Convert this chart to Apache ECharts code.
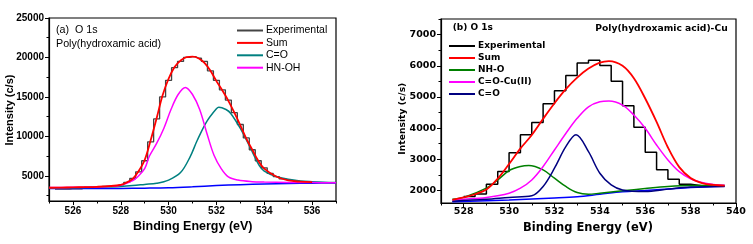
<!DOCTYPE html>
<html>
<head>
<meta charset="utf-8">
<script src="https://cdn.jsdelivr.net/npm/echarts@6/dist/echarts.min.js"></script>
<style>
html,body{margin:0;padding:0;background:#fff;}
#c{width:753px;height:244px;}
</style>
</head>
<body>
<div id="c"></div>
<script>
// ---------- Panel (a): Poly(hydroxamic acid), O 1s ----------
const A_EXP_E = [525.25,525.5,525.75,526,526.25,526.5,526.75,527,527.25,527.5,527.75,528,528.25,528.5,528.75,529,529.25,529.5,529.75,530,530.25,530.5,530.75,531,531.25,531.5,531.75,532,532.25,532.5,532.75,533,533.25,533.5,533.75,534,534.25,534.5,534.75,535,535.25,535.5];
const A_EXP_I = [3300,3300,3320,3330,3340,3560,3580,3600,3640,3680,3760,3860,4150,4650,5500,6900,9300,12200,15000,17100,18700,19500,20000,20100,19900,19500,18300,17100,15900,14600,13000,11500,9800,8300,6900,6000,5300,4900,4600,4450,4350,4300];

const A_SUM_E = [525,525.5,526,526.5,527,527.5,528,528.25,528.5,528.75,529,529.25,529.5,529.75,530,530.25,530.5,530.75,531,531.25,531.5,531.75,532,532.25,532.5,532.75,533,533.25,533.5,533.75,534,534.5,535,535.5,536];
const A_SUM_I = [3480,3500,3530,3560,3600,3680,3850,4150,4600,5600,7000,9500,12300,15200,17300,18800,19600,20050,20100,19900,19300,18300,17000,15800,14500,13000,11400,9700,8300,6900,5900,4900,4400,4250,4200];

const A_CO_E = [525,526,527,528,528.5,529,529.5,530,530.5,530.9,531.2,531.6,532,532.1,532.4,532.6,533,533.4,533.8,534,534.5,535,535.5,536,536.5,537];
const A_CO_I = [3450,3480,3550,3650,3750,3900,4050,4450,5400,7400,9500,11900,13500,13700,13400,12900,11000,8650,6250,5600,4900,4550,4350,4250,4180,4150];

const A_HNOH_E = [525,526,527,527.5,528,528.5,528.7,529,529.2,529.5,529.8,530.1,530.4,530.7,531,531.3,531.6,531.9,532.2,532.5,532.9,533.5,534,535,536,537];
const A_HNOH_I = [3500,3530,3580,3650,3800,4400,4850,5900,7500,9100,11000,13400,15300,16200,15300,13400,10400,7600,5900,4850,4450,4250,4200,4150,4130,4120];

const A_BG_E = [525,526,527,528,529,530,531,532,533,534,535,536,537];
const A_BG_I = [3380,3380,3390,3400,3430,3480,3600,3750,3870,3960,4020,4060,4080];

const A_X_MAJOR = [526,528,530,532,534,536];
const A_X_MINOR = [525,527,529,531,533,535,537];
const A_Y_MAJOR = [5000,10000,15000,20000,25000];
const A_Y_MINOR = [2500,7500,12500,17500,22500];

// ---------- Panel (b): Poly(hydroxamic acid)-Cu, O 1s ----------
const B_EXP_E = [528,528.5,529,529.5,530,530.5,531,531.5,532,532.5,533,533.5,534,534.5,535,535.5,536,536.5,537,537.5,538,538.5];
const B_EXP_I = [1810,1885,2205,2607,3215,3790,4185,4780,5200,5690,6090,6180,6010,5505,4720,4030,3225,2670,2365,2205,2150,2150];

const B_SUM_E = [527.5,528,528.5,529,529.5,530,530.5,531,531.5,532,532.5,533,533.5,534,534.4,535,535.5,536,536.5,537,537.5,538,538.5,539,539.5];
const B_SUM_I = [1700,1780,1880,2030,2380,2850,3350,3780,4300,4800,5250,5620,5910,6100,6150,6000,5600,4950,4200,3380,2750,2400,2240,2180,2160];

const B_NHO_E = [527.5,528,529,529.5,530,530.5,530.87,531.5,532,532.5,533,533.5,534,535,536,537,538,539.5];
const B_NHO_I = [1720,1780,2075,2340,2640,2770,2800,2660,2395,2130,1935,1880,1915,1990,2065,2130,2160,2160];

const B_COCU_E = [527.5,528,529,530,530.5,531,531.5,532,532.5,533,533.5,534,534.4,535,535.5,536,536.5,537,537.5,538,538.5,539,539.5];
const B_COCU_I = [1700,1720,1780,1915,2075,2340,2770,3300,3830,4315,4685,4845,4870,4740,4420,3995,3460,2980,2605,2375,2255,2195,2170];

const B_CO_E = [527.5,529,530,531,531.5,532,532.5,532.95,533.5,534,534.5,535,536,537,538,539.5];
const B_CO_I = [1660,1720,1780,1830,2130,2715,3405,3790,3245,2555,2180,2020,1970,2045,2110,2130];

const B_BG_E = [527.5,530,532,533,534,535,536,537,538,539.5];
const B_BG_I = [1640,1700,1760,1800,1880,1960,2000,2050,2100,2140];

const B_X_MAJOR = [528,530,532,534,536,538,540];
const B_X_MINOR = [527,529,531,533,535,537,539];
const B_Y_MAJOR = [2000,3000,4000,5000,6000,7000];
const B_Y_MINOR = [2500,3500,4500,5500,6500,7500];

function zip(xs, ys){ return xs.map((x,i)=>[x, ys[i]]); }

const FA = 'Liberation Sans, Arial, sans-serif';
const FB = 'DejaVu Sans, sans-serif';
const plain = v => String(v);

function mainX(grid, min, max, major, font, size, margin){
  return {type:'value', gridIndex:grid, min:min, max:max, position:'bottom',
    axisLine:{show:true, onZero:false, lineStyle:{color:'#000', width:1.2}},
    axisTick:{show:true, inside:false, length:4, customValues:major, lineStyle:{color:'#000', width:1}},
    axisLabel:{show:true, customValues:major, formatter:plain, margin:margin, color:'#000', fontFamily:font, fontWeight:'bold', fontSize:size},
    splitLine:{show:false}};
}
function minorX(grid, min, max, minor){
  return {type:'value', gridIndex:grid, min:min, max:max, position:'bottom',
    axisLine:{show:false, onZero:false},
    axisTick:{show:true, inside:false, length:2.5, customValues:minor, lineStyle:{color:'#000', width:1}},
    axisLabel:{show:false}, splitLine:{show:false}};
}
function mainY(grid, min, max, major, font, size, margin){
  return {type:'value', gridIndex:grid, min:min, max:max, position:'left',
    axisLine:{show:true, onZero:false, lineStyle:{color:'#000', width:1.2}},
    axisTick:{show:true, inside:false, length:4, customValues:major, lineStyle:{color:'#000', width:1}},
    axisLabel:{show:true, customValues:major, formatter:plain, margin:margin, color:'#000', fontFamily:font, fontWeight:'bold', fontSize:size},
    splitLine:{show:false}};
}
function minorY(grid, min, max, minor){
  return {type:'value', gridIndex:grid, min:min, max:max, position:'left',
    axisLine:{show:false, onZero:false},
    axisTick:{show:true, inside:false, length:2.5, customValues:minor, lineStyle:{color:'#000', width:1}},
    axisLabel:{show:false}, splitLine:{show:false}};
}
function line(name, xi, yi, xs, ys, color, width, z, extra){
  return Object.assign({name:name, type:'line', xAxisIndex:xi, yAxisIndex:yi, data:zip(xs,ys),
    showSymbol:false, symbol:'none', smooth:0.35, z:z, animation:false,
    lineStyle:{color:color, width:width}, itemStyle:{color:color}}, extra||{});
}

const chart = echarts.init(document.getElementById('c'), null, {renderer:'canvas'});
chart.setOption({
  animation:false,
  backgroundColor:'#fff',
  grid:[
    {left:49, top:18, width:287, height:183, show:true, borderColor:'#000', borderWidth:1.2, backgroundColor:'transparent'},
    {left:441, top:19, width:295, height:184, show:true, borderColor:'#000', borderWidth:1.2, backgroundColor:'transparent'}
  ],
  xAxis:[
    mainX(0,525,537,A_X_MAJOR,FA,10,5),
    mainX(1,527,540,B_X_MAJOR,FB,9.5,4),
    minorX(0,525,537,A_X_MINOR),
    minorX(1,527,540,B_X_MINOR)
  ],
  yAxis:[
    mainY(0,1800,25000,A_Y_MAJOR,FA,10,5),
    mainY(1,1600,7500,B_Y_MAJOR,FB,9.5,5),
    minorY(0,1800,25000,A_Y_MINOR),
    minorY(1,1600,7500,B_Y_MINOR)
  ],
  legend:[
    {orient:'vertical', left:232, top:19.5, itemWidth:26, itemHeight:2, icon:'rect', itemGap:0.4,
     selectedMode:false,
     textStyle:{fontFamily:FA, fontSize:10.5, color:'#000', lineHeight:12, padding:[0,0,0,-2]},
     data:[
       {name:'Experimental', itemStyle:{color:'#444'}},
       {name:'Sum', itemStyle:{color:'#ff0000'}},
       {name:'C=O', itemStyle:{color:'#008080'}},
       {name:'HN-OH', itemStyle:{color:'#ff00ff'}}
     ]},
    {orient:'vertical', left:444, top:35, itemWidth:26, itemHeight:2, icon:'rect', itemGap:0,
     selectedMode:false,
     textStyle:{fontFamily:FB, fontSize:9, fontWeight:'bold', color:'#000', lineHeight:12, padding:[0,0,0,-2]},
     data:[
       {name:'Experimental', itemStyle:{color:'#000'}},
       {name:'Sum', itemStyle:{color:'#ff0000'}},
       {name:'NH-O', itemStyle:{color:'#008000'}},
       {name:'C=O-Cu(II)', itemStyle:{color:'#ff00ff'}},
       {name:'C=O', itemStyle:{color:'#000080'}}
     ]}
  ],
  series:[
    line('Experimental',0,0,A_EXP_E,A_EXP_I,'#444',1.3,2,{smooth:false, step:'middle'}),
    line('Background a',0,0,A_BG_E,A_BG_I,'#0000ff',1.5,3),
    line('C=O',0,0,A_CO_E,A_CO_I,'#008080',1.5,4),
    line('HN-OH',0,0,A_HNOH_E,A_HNOH_I,'#ff00ff',1.5,5),
    line('Sum',0,0,A_SUM_E,A_SUM_I,'#ff0000',1.8,6),

    line('Experimental',1,1,B_EXP_E,B_EXP_I,'#000',1.5,2,{smooth:false, step:'end'}),
    line('Background b',1,1,B_BG_E,B_BG_I,'#0000ff',1.5,3),
    line('NH-O',1,1,B_NHO_E,B_NHO_I,'#008000',1.5,4),
    line('C=O-Cu(II)',1,1,B_COCU_E,B_COCU_I,'#ff00ff',1.5,5),
    line('C=O',1,1,B_CO_E,B_CO_I,'#000080',1.5,6),
    line('Sum',1,1,B_SUM_E,B_SUM_I,'#ff0000',1.8,7)
  ],
  graphic:[
    {type:'text', left:56, top:25, style:{text:'(a)  O 1s', fontFamily:FA, fontSize:10.7, fill:'#000'}},
    {type:'text', left:56, top:38.5, style:{text:'Poly(hydroxamic acid)', fontFamily:FA, fontSize:10.7, fill:'#000'}},
    {type:'text', x:192.8, y:226.7, style:{text:'Binding Energy (eV)', fontFamily:FA, fontWeight:'bold', fontSize:12.5, fill:'#000', align:'center', verticalAlign:'middle'}},
    {type:'text', x:10, y:110, rotation:Math.PI/2, style:{text:'Intensity (c/s)', fontFamily:FA, fontWeight:'bold', fontSize:11, fill:'#000', align:'center', verticalAlign:'middle'}},

    {type:'text', x:452.7, y:28, style:{text:'(b) O 1s', fontFamily:FB, fontWeight:'bold', fontSize:9, fill:'#000', align:'left', verticalAlign:'middle'}},
    {type:'text', x:727.7, y:29, style:{text:'Poly(hydroxamic acid)-Cu', fontFamily:FB, fontWeight:'bold', fontSize:9.2, fill:'#000', align:'right', verticalAlign:'middle'}},
    {type:'text', x:588, y:228, style:{text:'Binding Energy (eV)', fontFamily:FB, fontWeight:'bold', fontSize:11.5, fill:'#000', align:'center', verticalAlign:'middle'}},
    {type:'text', x:402.7, y:118.7, rotation:Math.PI/2, style:{text:'Intensity (c/s)', fontFamily:FB, fontWeight:'bold', fontSize:9.2, fill:'#000', align:'center', verticalAlign:'middle'}}
  ]
});
</script>
</body>
</html>
